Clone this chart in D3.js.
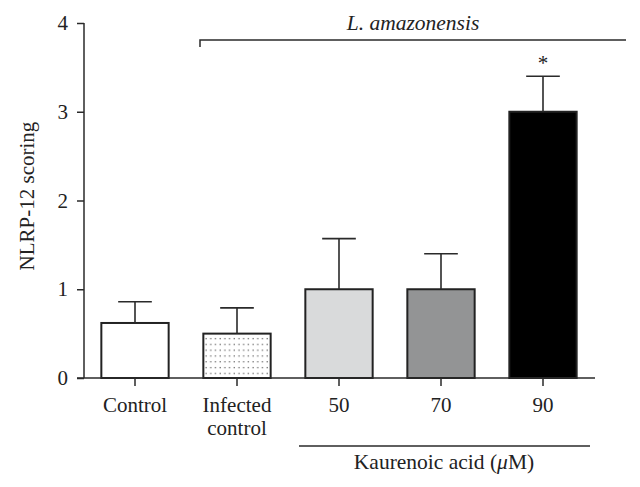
<!DOCTYPE html>
<html><head><meta charset="utf-8">
<script src="https://cdn.jsdelivr.net/npm/d3@7"></script>
<style>body{margin:0;background:#fff}svg{display:block}text{font-family:"Liberation Serif","Times New Roman",serif;fill:#222}</style>
</head><body>
<svg id="c" width="640" height="487"></svg>
<script>
const categories = ["Control", "Infected control", "50", "70", "90"];
const categoryLines = [["Control"], ["Infected", "control"], ["50"], ["70"], ["90"]];
const means = [0.62, 0.5, 1.0, 1.0, 3.0];
const errors = [0.24, 0.29, 0.57, 0.40, 0.40];
const fills = ["#ffffff", "url(#dots)", "#d9dadb", "#939495", "#000000"];
const yTicks = [0, 1, 2, 3, 4];
const significance = ["", "", "", "", "*"];

const svg = d3.select("#c");
const defs = svg.append("defs");
const pat = defs.append("pattern").attr("id", "dots").attr("patternUnits", "userSpaceOnUse")
  .attr("width", 4.7).attr("height", 5.8).attr("x", 204).attr("y", 336);
pat.append("rect").attr("width", 4.7).attr("height", 5.8).attr("fill", "#fff");
pat.append("rect").attr("x", 1.5).attr("y", 2).attr("width", 1.2).attr("height", 1.2).attr("fill", "#555");

const x = d3.scaleBand().domain(categories).range([84, 594]).paddingInner(0.34).paddingOuter(0.17);
const y = d3.scaleLinear().domain([0, 4]).range([378, 23]);
const col = "#2a2a2a";

// y axis
const ya = svg.append("g").attr("transform", "translate(84,0)")
  .call(d3.axisLeft(y).tickValues(yTicks).tickSize(7).tickPadding(9).tickFormat(d3.format("d")));
ya.select(".domain").attr("stroke", col).attr("stroke-width", 1.5).attr("d", "M0,378V23");
ya.selectAll(".tick line").attr("stroke", col).attr("stroke-width", 1.5);
ya.selectAll(".tick text").style("font-size", "21px").style("font-family", "Liberation Serif, serif").attr("fill", "#222");

// bars
svg.selectAll("rect.bar").data(categories).join("rect").attr("class", "bar")
  .attr("x", d => x(d)).attr("width", x.bandwidth())
  .attr("y", (d, i) => y(means[i])).attr("height", (d, i) => y(0) - y(means[i]))
  .attr("fill", (d, i) => fills[i]).attr("stroke", "#222").attr("stroke-width", 2);

// error bars
const eb = svg.selectAll("g.err").data(categories).join("g").attr("class", "err");
eb.append("line").attr("x1", d => x(d) + x.bandwidth() / 2).attr("x2", d => x(d) + x.bandwidth() / 2)
  .attr("y1", (d, i) => y(means[i])).attr("y2", (d, i) => y(means[i] + errors[i]))
  .attr("stroke", col).attr("stroke-width", 1.6);
eb.append("line").attr("x1", d => x(d) + x.bandwidth() / 4).attr("x2", d => x(d) + 3 * x.bandwidth() / 4)
  .attr("y1", (d, i) => y(means[i] + errors[i])).attr("y2", (d, i) => y(means[i] + errors[i]))
  .attr("stroke", col).attr("stroke-width", 1.6);
eb.append("text").attr("x", d => x(d) + x.bandwidth() / 2).attr("y", (d, i) => y(means[i] + errors[i]) - 6)
  .attr("text-anchor", "middle").style("font-size", "21px").text((d, i) => significance[i]);

// x axis
const xa = svg.append("g").attr("transform", "translate(0,378)")
  .call(d3.axisBottom(x).tickSize(8).tickFormat(""));
xa.select(".domain").attr("stroke", col).attr("stroke-width", 1.5).attr("d", "M77,0H595");
xa.selectAll(".tick line").attr("stroke", col).attr("stroke-width", 1.5);
categories.forEach((c, i) => {
  const t = svg.append("text").attr("x", x(c) + x.bandwidth() / 2).attr("y", 412)
    .attr("text-anchor", "middle").style("font-size", "21px");
  categoryLines[i].forEach((ln, j) => t.append("tspan").attr("x", x(c) + x.bandwidth() / 2).attr("dy", j ? 23 : 0).text(ln));
});

// y label
svg.append("text").attr("transform", "translate(34,196) rotate(-90)").attr("text-anchor", "middle")
  .style("font-size", "21px").text("NLRP-12 scoring");

// top bracket
svg.append("path").attr("d", "M200,47V40H626").attr("fill", "none").attr("stroke", col).attr("stroke-width", 1.5);
svg.append("text").attr("x", 413).attr("y", 30).attr("text-anchor", "middle").style("font-size", "21.5px")
  .style("font-style", "italic").text("L. amazonensis");

// bottom bracket
svg.append("line").attr("x1", 299).attr("x2", 590).attr("y1", 446).attr("y2", 446).attr("stroke", col).attr("stroke-width", 1.5);
const kt = svg.append("text").attr("x", 444).attr("y", 469).attr("text-anchor", "middle").style("font-size", "21.5px");
kt.append("tspan").text("Kaurenoic acid (");
kt.append("tspan").style("font-style", "italic").text("\u03bc");
kt.append("tspan").text("M)");
</script>
</body></html>
